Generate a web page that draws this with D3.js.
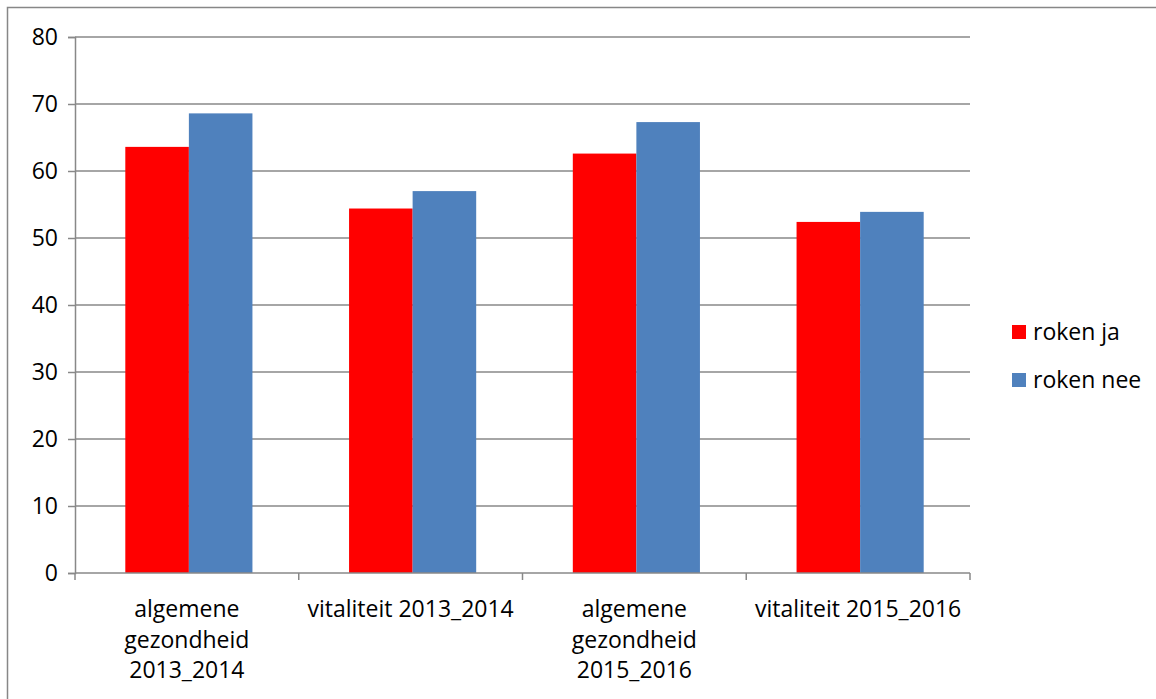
<!DOCTYPE html>
<html>
<head>
<meta charset="utf-8">
<script src="https://cdn.jsdelivr.net/npm/d3@7"></script>
<style>
  body { margin: 0; background: #fff; }
  text { font-family: "Open Sans", "Noto Sans", sans-serif; fill: #000; }
</style>
</head>
<body>
<div id="chart"></div>
<script>
// chart data
const categories = [
  "algemene gezondheid 2013_2014",
  "vitaliteit 2013_2014",
  "algemene gezondheid 2015_2016",
  "vitaliteit 2015_2016"
];
const categoryLines = [
  ["algemene", "gezondheid", "2013_2014"],
  ["vitaliteit 2013_2014"],
  ["algemene", "gezondheid", "2015_2016"],
  ["vitaliteit 2015_2016"]
];
const seriesNames = ["roken ja", "roken nee"];
const rokenJa = [63.6, 54.4, 62.6, 52.4];
const rokenNee = [68.6, 57.0, 67.3, 53.9];
const yTicks = [0, 10, 20, 30, 40, 50, 60, 70, 80];

const colors = ["#ff0000", "#4f81bd"];
const seriesValues = [rokenJa, rokenNee];

const width = 1156;
const height = 699;
const margin = { top: 37, right: 186, bottom: 126, left: 75 };
const fontSize = 23;

const svg = d3
  .select("#chart")
  .append("svg")
  .attr("width", width)
  .attr("height", height);

// outer frame (only top and left edges are in view)
svg
  .append("path")
  .attr("d", "M7.5," + height + "V7.5H" + width)
  .attr("fill", "none")
  .attr("stroke", "#878787")
  .attr("stroke-width", 1.5);

const x0 = d3
  .scaleBand()
  .domain(categories)
  .range([margin.left, width - margin.right]);

const x1 = d3
  .scaleBand()
  .domain(seriesNames)
  .range([2, x0.bandwidth() + 2])
  .paddingInner(0)
  .paddingOuter(0.76);

const y = d3
  .scaleLinear()
  .domain([0, 80])
  .range([height - margin.bottom, margin.top]);

// gridlines
svg
  .append("g")
  .selectAll("line")
  .data(yTicks.filter(d => d > 0))
  .enter()
  .append("line")
  .attr("x1", margin.left)
  .attr("x2", width - margin.right)
  .attr("y1", d => y(d))
  .attr("y2", d => y(d))
  .attr("stroke", "#888888")
  .attr("stroke-width", 1.5);

// bars
const rows = categories.map((c, i) => ({
  cat: c,
  vals: seriesNames.map((s, j) => ({ name: s, value: seriesValues[j][i], color: colors[j] }))
}));

svg
  .append("g")
  .selectAll("g")
  .data(rows)
  .enter()
  .append("g")
  .attr("transform", d => "translate(" + x0(d.cat) + ",0)")
  .selectAll("rect")
  .data(d => d.vals)
  .enter()
  .append("rect")
  .attr("x", d => x1(d.name))
  .attr("width", x1.bandwidth())
  .attr("y", d => y(d.value))
  .attr("height", d => y(0) - y(d.value))
  .attr("fill", d => d.color);

// y axis
const yAxis = svg
  .append("g")
  .attr("transform", "translate(" + margin.left + ",0)")
  .call(d3.axisLeft(y).tickValues(yTicks).tickSize(7).tickPadding(10));

yAxis.select(".domain").attr("stroke", "#888888").attr("stroke-width", 1.5);
yAxis.selectAll(".tick line").attr("stroke", "#888888").attr("stroke-width", 1.5);
yAxis
  .selectAll(".tick text")
  .attr("font-family", "Open Sans")
  .attr("font-size", fontSize)
  .attr("fill", "#000");

// x axis line with ticks at the band boundaries
const xg = svg.append("g");
xg.append("line")
  .attr("x1", margin.left)
  .attr("x2", width - margin.right)
  .attr("y1", y(0))
  .attr("y2", y(0))
  .attr("stroke", "#888888")
  .attr("stroke-width", 1.5);

const bounds = categories.map(c => x0(c)).concat([x0.range()[1]]);
xg.selectAll("line.tick")
  .data(bounds)
  .enter()
  .append("line")
  .attr("class", "tick")
  .attr("x1", d => d)
  .attr("x2", d => d)
  .attr("y1", y(0))
  .attr("y2", y(0) + 7)
  .attr("stroke", "#888888")
  .attr("stroke-width", 1.5);

// category labels
const labels = xg
  .selectAll("text")
  .data(categories)
  .enter()
  .append("text")
  .attr("text-anchor", "middle")
  .attr("font-size", fontSize)
  .attr("x", d => x0(d) + x0.bandwidth() / 2)
  .attr("y", y(0) + 44);

labels
  .selectAll("tspan")
  .data((d, i) => categoryLines[i])
  .enter()
  .append("tspan")
  .attr("x", function() { return d3.select(this.parentNode).attr("x"); })
  .attr("dy", (d, i) => (i === 0 ? 0 : 30.5))
  .text(d => d);

// legend
const legend = svg
  .append("g")
  .selectAll("g")
  .data(seriesNames)
  .enter()
  .append("g")
  .attr("transform", (d, i) => "translate(1012," + (325 + i * 48) + ")");

legend
  .append("rect")
  .attr("width", 14)
  .attr("height", 14)
  .attr("fill", (d, i) => colors[i]);

legend
  .append("text")
  .attr("x", 21)
  .attr("y", 15)
  .attr("font-size", fontSize)
  .text(d => d);
</script>
</body>
</html>
